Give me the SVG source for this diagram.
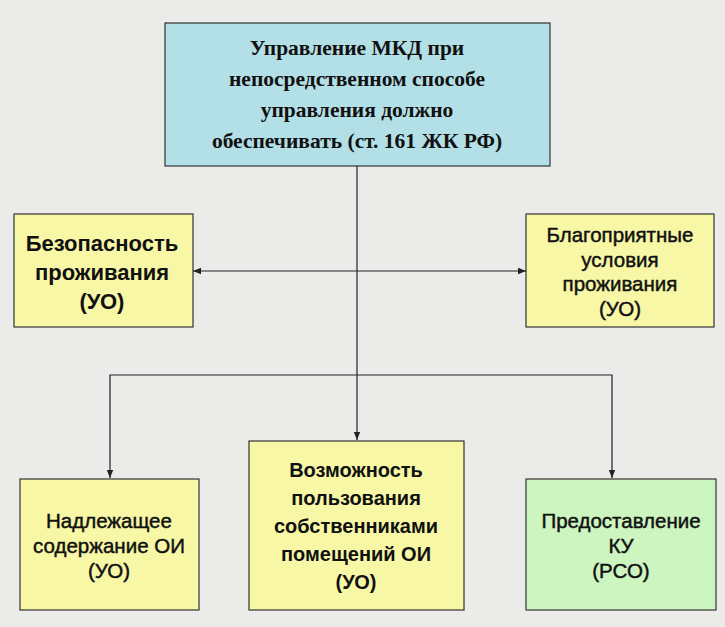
<svg xmlns="http://www.w3.org/2000/svg" width="725" height="627" viewBox="0 0 725 627">
<defs>
<marker id="ar" viewBox="0 0 10 10" refX="10" refY="5" markerWidth="7" markerHeight="7" orient="auto-start-reverse"><path d="M0,1 L10,5 L0,9 z" fill="#222"/></marker>
<style>
.box{stroke:#333;stroke-width:1.2}
.y{fill:#f7f7a6}
.b{fill:#b3dfe6}
.g{fill:#cdf5c0}
.t{font-family:"Liberation Sans",Arial,sans-serif;fill:#111;text-anchor:middle}
.m{font-size:20.5px;stroke:#111;stroke-width:0.45}
.s{font-family:"Liberation Serif","Times New Roman",serif;font-weight:bold;font-size:21.5px;fill:#111;text-anchor:middle}
.c{stroke:#222;stroke-width:1.2;fill:none}
</style>
</defs>
<rect width="725" height="627" fill="#ebebea"/>
<g id="top"><rect class="box b" x="165" y="23" width="385" height="143"/>
<text class="s" x="357" y="55">Управление МКД при</text>
<text class="s" x="357" y="86">непосредственном способе</text>
<text class="s" x="357" y="117">управления должно</text>
<text class="s" x="357" y="148">обеспечивать (ст. 161 ЖК РФ)</text></g>
<g id="left"><rect class="box y" x="14" y="214" width="179" height="113"/>
<text class="t" font-size="22" font-weight="bold" x="102" y="251">Безопасность</text>
<text class="t" font-size="22" font-weight="bold" x="102" y="280">проживания</text>
<text class="t" font-size="22" font-weight="bold" x="102" y="309">(УО)</text></g>
<g id="right"><rect class="box y" x="526" y="214" width="188" height="113"/>
<text class="t m" x="620" y="242">Благоприятные</text>
<text class="t m" x="620" y="267">условия</text>
<text class="t m" x="620" y="291">проживания</text>
<text class="t m" x="620" y="316">(УО)</text></g>
<g id="bl"><rect class="box y" x="20" y="479" width="179" height="131"/>
<text class="t m" x="109" y="528">Надлежащее</text>
<text class="t m" x="109" y="553">содержание ОИ</text>
<text class="t m" x="109" y="578">(УО)</text></g>
<g id="bm"><rect class="box y" x="249" y="441" width="215" height="169"/>
<text class="t" font-size="20" font-weight="bold" x="356" y="477">Возможность</text>
<text class="t" font-size="20" font-weight="bold" x="356" y="505">пользования</text>
<text class="t" font-size="20" font-weight="bold" x="356" y="533">собственниками</text>
<text class="t" font-size="20" font-weight="bold" x="356" y="561">помещений ОИ</text>
<text class="t" font-size="20" font-weight="bold" x="356" y="589">(УО)</text></g>
<g id="br"><rect class="box g" x="526" y="479" width="190" height="131"/>
<text class="t m" x="621" y="528">Предоставление</text>
<text class="t m" x="621" y="553">КУ</text>
<text class="t m" x="621" y="578">(РСО)</text></g>
<g id="connectors">
<path class="c" d="M357,166 V440" marker-end="url(#ar)"/>
<path class="c" d="M193,271 H526" marker-start="url(#ar)" marker-end="url(#ar)"/>
<path class="c" d="M110,478 V375 H612 V478" marker-start="url(#ar)" marker-end="url(#ar)"/>
</g>
</svg>
